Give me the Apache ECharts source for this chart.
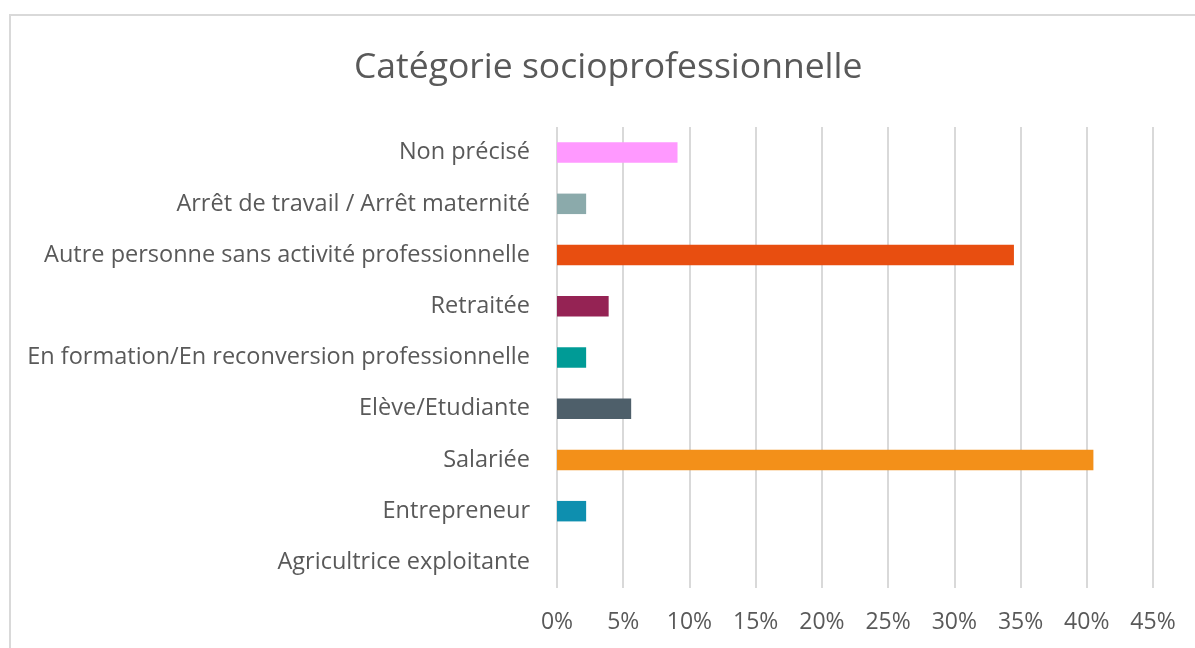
<!DOCTYPE html>
<html lang="fr">
<head>
  <meta charset="UTF-8">
  <title>Catégorie socioprofessionnelle</title>
  <script src="https://cdn.jsdelivr.net/npm/echarts@6/dist/echarts.min.js"></script>
  <style>
    html, body { margin: 0; padding: 0; background: #fff; }
    #chart { width: 1195px; height: 648px; }
  </style>
</head>
<body>
<div id="chart"></div>
<script>
  // catégories, de bas en haut (axe y inversé par ECharts)
  var categories = [
    'Agricultrice exploitante',
    'Entrepreneur',
    'Salariée',
    'Elève/Etudiante',
    'En formation/En reconversion professionnelle',
    'Retraitée',
    'Autre personne sans activité professionnelle',
    'Arrêt de travail / Arrêt maternité',
    'Non précisé'
  ];
  // parts en %
  var values = [0, 2.2, 40.5, 5.6, 2.2, 3.9, 34.5, 2.2, 9.1];
  var barColors = ['#0E8FAF', '#0E8FAF', '#F39019', '#4E5F6A', '#009B96', '#952354', '#E84E10', '#8BAAAB', '#FF99FF'];
  var ticks = [0, 5, 10, 15, 20, 25, 30, 35, 40, 45];

  var textColor = '#595959';
  var font = '"Open Sans", "Noto Sans", sans-serif';

  var chart = echarts.init(document.getElementById('chart'));
  chart.setOption({
    backgroundColor: '#fff',
    animation: false,
    graphic: [{
      type: 'rect',
      shape: { x: 10, y: 15, width: 1200, height: 660 },
      style: { fill: 'none', stroke: '#d9d9d9', lineWidth: 2 },
      z: 0
    }],
    title: {
      text: 'Catégorie socioprofessionnelle',
      left: 349,
      top: 45,
      textStyle: { color: textColor, fontFamily: font, fontSize: 35.5, fontWeight: 'normal' }
    },
    grid: { left: 557, right: 42, top: 127, bottom: 60, containLabel: false },
    xAxis: {
      type: 'value',
      min: ticks[0],
      max: ticks[ticks.length - 1],
      interval: 5,
      axisLine: { show: false },
      axisTick: { show: false },
      splitLine: { lineStyle: { color: '#d9d9d9', width: 2 } },
      axisLabel: {
        color: textColor, fontFamily: font, fontSize: 23, margin: 23,
        formatter: function (v) { return v + '%'; }
      }
    },
    yAxis: {
      type: 'category',
      data: categories,
      axisLine: { show: false },
      axisTick: { show: false },
      axisLabel: { color: textColor, fontFamily: font, fontSize: 23.5, margin: 27 }
    },
    series: [{
      type: 'bar',
      data: values.map(function (v, i) {
        return { value: v, itemStyle: { color: barColors[i] } };
      }),
      barWidth: '40%'
    }]
  });
</script>
</body>
</html>
